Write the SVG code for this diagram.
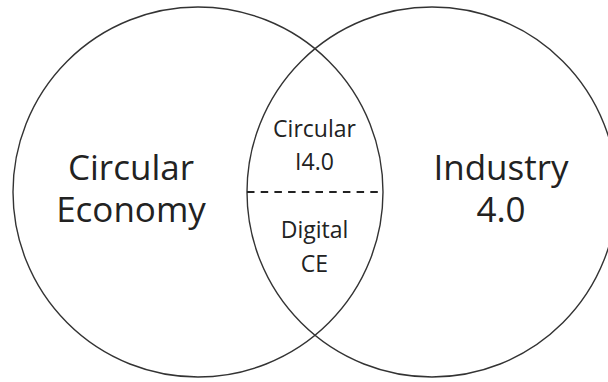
<svg xmlns="http://www.w3.org/2000/svg" width="608" height="382" viewBox="0 0 608 382">
<style>
.c{fill:none;stroke:#333;stroke-width:1.4}
.big{font-family:"Open Sans","Noto Sans",sans-serif;font-size:35px;fill:#222;text-anchor:middle}
.sm{font-family:"Open Sans","Noto Sans",sans-serif;font-size:23px;fill:#222;text-anchor:middle}
</style>
<rect width="608" height="382" fill="#fff"/>
<g id="circular-economy">
<circle class="c" cx="198" cy="192" r="185"/>
<text class="big" x="131" y="180">Circular</text>
<text class="big" x="131" y="222">Economy</text>
</g>
<g id="industry-4">
<circle class="c" cx="432" cy="192" r="185"/>
<text class="big" x="501" y="180">Industry</text>
<text class="big" x="501" y="222">4.0</text>
</g>
<g id="connectors">
<line x1="247" y1="192" x2="383" y2="192" stroke="#222" stroke-width="1.8" stroke-dasharray="7.5 6.2"/>
</g>
<g id="circular-i40">
<text class="sm" x="314.5" y="137">Circular</text>
<text class="sm" x="314.5" y="170">I4.0</text>
</g>
<g id="digital-ce">
<text class="sm" x="314.5" y="238">Digital</text>
<text class="sm" x="314.5" y="272">CE</text>
</g>
</svg>
